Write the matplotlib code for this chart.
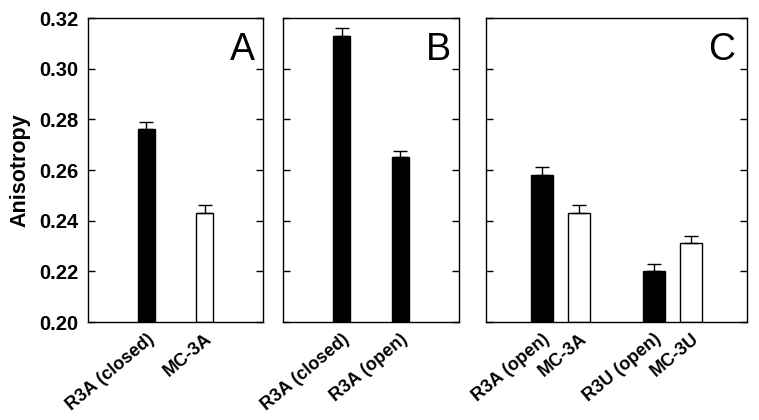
import matplotlib
matplotlib.use("Agg")
import matplotlib.pyplot as plt

plt.rcParams['font.family'] = ['Liberation Sans', 'DejaVu Sans']

# panel A
labels_a = ['R3A (closed)', 'MC-3A']
values_a = [0.276, 0.243]
errors_a = [0.003, 0.003]
colors_a = ['black', 'white']

# panel B
labels_b = ['R3A (closed)', 'R3A (open)']
values_b = [0.313, 0.265]
errors_b = [0.003, 0.0025]
colors_b = ['black', 'black']

# panel C
labels_c = ['R3A (open)', 'MC-3A', 'R3U (open)', 'MC-3U']
values_c = [0.258, 0.243, 0.220, 0.231]
errors_c = [0.003, 0.003, 0.003, 0.003]
colors_c = ['black', 'white', 'black', 'white']

yticks = [0.20, 0.22, 0.24, 0.26, 0.28, 0.30, 0.32]

fig = plt.figure(figsize=(7.59, 4.2), dpi=100)
bottom, height = 0.2333, 0.7238
ax_a = fig.add_axes([0.1159, bottom, 0.2306, height])
ax_b = fig.add_axes([0.3729, bottom, 0.2318, height])
ax_c = fig.add_axes([0.6403, bottom, 0.3439, height])

panels = [
    (ax_a, labels_a, values_a, errors_a, colors_a, [1, 2], 0.3, (0, 3), 'A'),
    (ax_b, labels_b, values_b, errors_b, colors_b, [1, 2], 0.3, (0, 3), 'B'),
    (ax_c, labels_c, values_c, errors_c, colors_c, [1, 2, 4, 5], 0.6, (-0.5, 6.5), 'C'),
]

for ax, labels, values, errors, colors, pos, w, xlim, letter in panels:
    base = [v - 0.20 for v in values]
    ax.bar(pos, base, bottom=0.20, width=w, color=colors, edgecolor='black',
           linewidth=1, zorder=2)
    ax.errorbar(pos, values, yerr=[[0] * len(errors), errors], fmt='none',
                ecolor='black', elinewidth=1, capsize=5, capthick=1, zorder=3)
    ax.set_xlim(*xlim)
    ax.set_ylim(0.20, 0.32)
    ax.set_yticks(yticks)
    ax.set_xticks(pos)
    ax.set_xticklabels(labels, rotation=40, ha='right', rotation_mode='anchor',
                       fontsize=13, fontweight='bold')
    ax.tick_params(axis='x', length=0, pad=6)
    ax.tick_params(axis='y', direction='in', length=5, width=1, right=True)
    for s in ax.spines.values():
        s.set_linewidth(1)
    ax.text(0.955, 0.862, letter, transform=ax.transAxes, ha='right',
            va='baseline', fontsize=27)
    if ax is ax_a:
        ax.set_yticklabels(['%.2f' % t for t in yticks], fontsize=14.5,
                           fontweight='bold')
        ax.tick_params(axis='y', pad=7)
        ax.set_ylabel('Anisotropy', fontsize=15.5, fontweight='bold', labelpad=6)
    else:
        ax.set_yticklabels([])

fig.savefig('out.png', dpi=100)
